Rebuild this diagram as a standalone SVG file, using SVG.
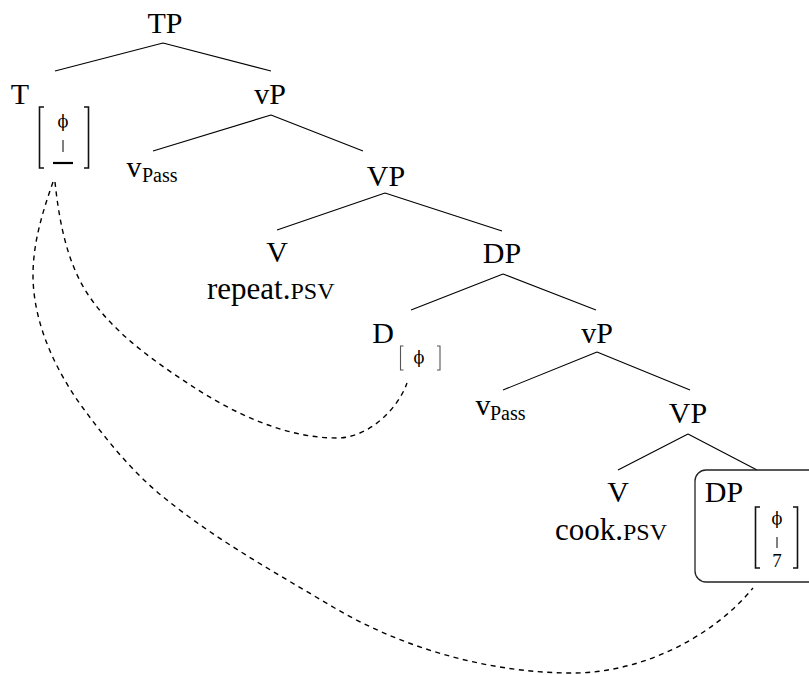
<svg xmlns="http://www.w3.org/2000/svg" width="809" height="675" viewBox="0 0 809 675">
  <style>
    .lbl { font-family: "Liberation Serif", "Times New Roman", serif; font-size: 30px; fill: #000; text-anchor: middle; }
    .word { font-family: "Liberation Serif", "Times New Roman", serif; font-size: 31px; fill: #000; }
    .sc { font-size: 24px; }
    .sub { font-family: "Liberation Serif", "Times New Roman", serif; font-size: 20px; fill: #000; }
    .feat { font-family: "Liberation Serif", "Times New Roman", serif; font-size: 19px; fill: #000; text-anchor: middle; }
    .phi { font-family: "DejaVu Serif", "Noto Sans", serif; font-size: 16px; fill: #000000; text-anchor: middle; }
    .edge { stroke: #000; stroke-width: 1.1; fill: none; }
    .brk { stroke: #111; stroke-width: 1.6; fill: none; }
    .brk-thin { stroke: #555; stroke-width: 1.1; fill: none; }
    .link { stroke: #000; stroke-width: 1.4; fill: none; stroke-dasharray: 5 4.5; }
  </style>

  <!-- tree edges and agreement links -->
  <g id="connectors">
    <path class="edge" d="M163,43 L55,71 M163,43 L271,71"/>
    <path class="edge" d="M271,115 L153,151 M271,115 L363,151"/>
    <path class="edge" d="M385,193 L277,230 M385,193 L502,231"/>
    <path class="edge" d="M503,274 L411,310 M503,274 L596,310"/>
    <path class="edge" d="M597,352 L503,390 M597,352 L690,390"/>
    <path class="edge" d="M688,434 L618,470 M688,434 L757,470"/>
    <!-- T feature to D feature -->
    <path class="link" d="M55,182 C59,220 66.5,261 87,293 C113,333 155,362 195,388 C237,415 287,438 337,438 C367,438 397,411 407,383"/>
    <!-- T feature to lower DP feature -->
    <path class="link" d="M53,182 C42.5,212 33,243 33,275 C33,322 55,370 83,408 C108,442 134,474 167,500 C218,541 276,573 333,607 C404,649 490,673 573,673 C639,673 711,639 753,588"/>
  </g>

  <g id="TP"><text class="lbl" x="165" y="33">TP</text></g>

  <g id="T">
    <text class="lbl" x="20" y="104">T</text>
    <path class="brk" d="M44,107 H39.5 V168 H44"/>
    <path class="brk" d="M84,107 H88.5 V168 H84"/>
    <text class="phi" x="63" y="127">ϕ</text>
    <line x1="63" y1="140" x2="63" y2="152" stroke="#000" stroke-width="1"/>
    <line x1="53" y1="163" x2="73" y2="163" stroke="#000" stroke-width="2.2"/>
  </g>

  <g id="vP1"><text class="lbl" x="270" y="104">vP</text></g>

  <g id="vPass1">
    <text class="lbl" x="134" y="177">v</text>
    <text class="sub" x="142" y="182">Pass</text>
  </g>

  <g id="VP1"><text class="lbl" x="386" y="186">VP</text></g>

  <g id="V1">
    <text class="lbl" x="277" y="262">V</text>
    <text class="word" x="207" y="299">repeat.<tspan class="sc">PSV</tspan></text>
  </g>

  <g id="DP1"><text class="lbl" x="502" y="263">DP</text></g>

  <g id="D">
    <text class="lbl" x="383" y="343">D</text>
    <path class="brk-thin" d="M403.5,346 H400.5 V370 H403.5"/>
    <path class="brk-thin" d="M437,346 H440 V370 H437"/>
    <text class="phi" x="419" y="363">ϕ</text>
  </g>

  <g id="vP2"><text class="lbl" x="597" y="343">vP</text></g>

  <g id="vPass2">
    <text class="lbl" x="483" y="415">v</text>
    <text class="sub" x="490" y="420">Pass</text>
  </g>

  <g id="VP2"><text class="lbl" x="688" y="423">VP</text></g>

  <g id="V2">
    <text class="lbl" x="618" y="502">V</text>
    <text class="word" x="555" y="540">cook.<tspan class="sc">PSV</tspan></text>
  </g>

  <g id="DP2">
    <rect x="695" y="470" width="140" height="112" rx="11" ry="11" fill="none" stroke="#222" stroke-width="1.3"/>
    <text class="lbl" x="724" y="502">DP</text>
    <path class="brk" d="M760,507 H755.5 V568 H760"/>
    <path class="brk" d="M793,507 H797.5 V568 H793"/>
    <text class="phi" x="777" y="524">ϕ</text>
    <line x1="777" y1="537" x2="777" y2="548" stroke="#000" stroke-width="1"/>
    <text class="feat" x="777" y="567">7</text>
  </g>
</svg>
